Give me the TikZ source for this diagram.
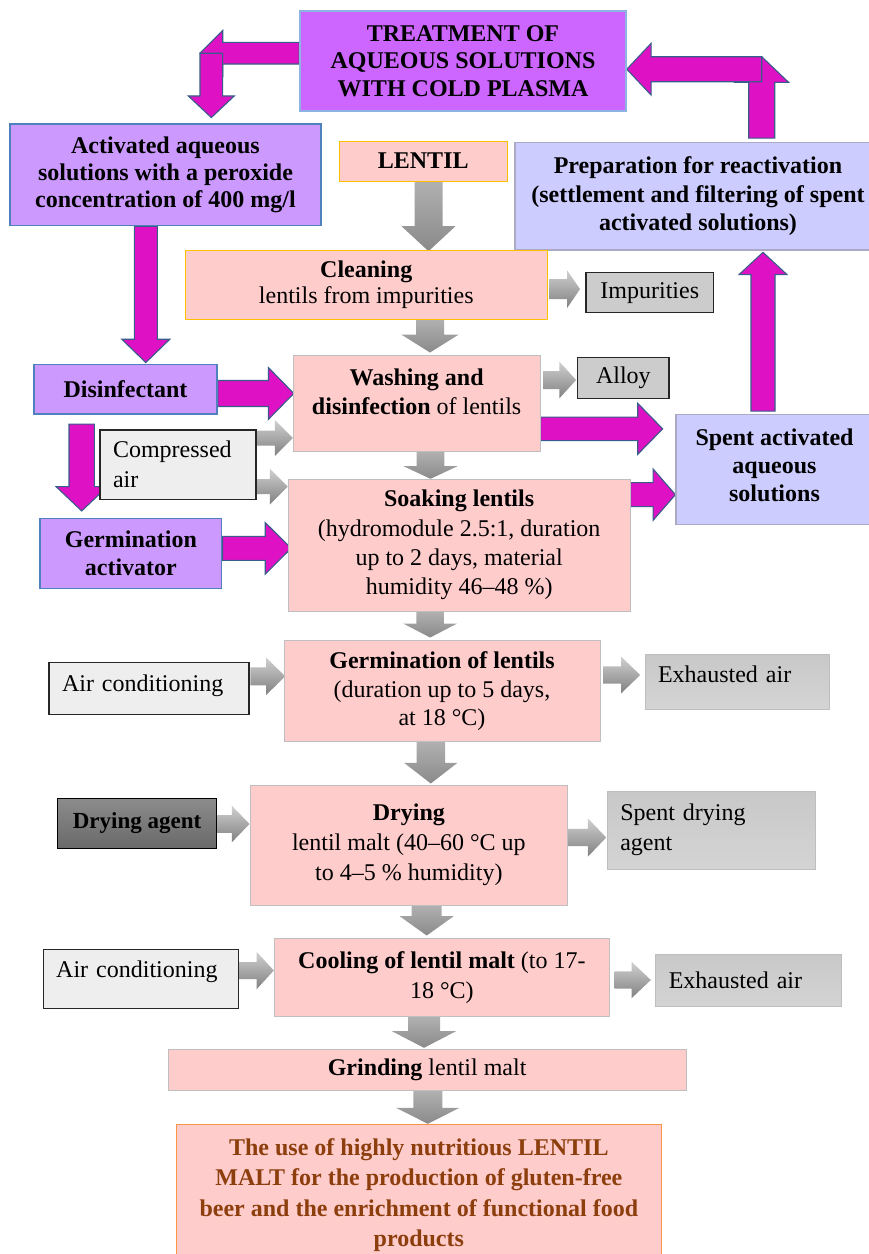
\documentclass[tikz,border=0pt]{standalone}
\usepackage{fontspec}
\setmainfont{Liberation Serif}
\usetikzlibrary{calc,backgrounds}

\definecolor{cPink}{RGB}{255,204,204}
\definecolor{cPinkB}{RGB}{191,191,191}
\definecolor{cGold}{RGB}{255,192,0}
\definecolor{cViolet}{RGB}{204,102,255}
\definecolor{cVioletB}{RGB}{141,179,226}
\definecolor{cLilac}{RGB}{204,153,255}
\definecolor{cLilacB}{RGB}{79,129,189}
\definecolor{cLav}{RGB}{204,204,255}
\definecolor{cLavB}{RGB}{170,170,196}
\definecolor{cMag}{RGB}{222,17,196}
\definecolor{cMagB}{RGB}{56,93,138}
\definecolor{cLtGray}{RGB}{238,238,238}
\definecolor{cMdGray}{RGB}{204,204,204}
\definecolor{cDark}{RGB}{38,38,38}
\definecolor{cOrange}{RGB}{247,150,70}
\definecolor{cBrown}{RGB}{140,62,12}
\definecolor{cGrTop}{RGB}{200,200,200}
\definecolor{cGrBot}{RGB}{212,212,212}
\definecolor{cGrB}{RGB}{190,190,190}
\definecolor{cDkTop}{RGB}{140,140,140}
\definecolor{cDkBot}{RGB}{105,105,105}
\definecolor{cGvTop}{RGB}{176,176,176}
\definecolor{cGvBot}{RGB}{138,138,138}
\definecolor{cGhTop}{RGB}{208,208,208}
\definecolor{cGhBot}{RGB}{128,128,128}

\newcommand\myfs[1]{\fontsize{24}{#1}\selectfont}

% horizontal block arrow: style, from, to, shaft half, head half, head length
\newcommand\harrow[6]{%
  \path[#1] let \p1=#2, \p2=#3, \n1={ifthenelse(\x2>\x1,1,-1)} in
    (\x1,\y1+#4) -- ({\x2-\n1*#6},\y1+#4) -- ({\x2-\n1*#6},\y1+#5) -- (\x2,\y1)
    -- ({\x2-\n1*#6},\y1-#5) -- ({\x2-\n1*#6},\y1-#4) -- (\x1,\y1-#4) -- cycle;}
% vertical block arrow
\newcommand\varrow[6]{%
  \path[#1] let \p1=#2, \p2=#3, \n1={ifthenelse(\y2>\y1,1,-1)} in
    (\x1+#4,\y1) -- (\x1+#4,{\y2-\n1*#6}) -- (\x1+#5,{\y2-\n1*#6}) -- (\x1,\y2)
    -- (\x1-#5,{\y2-\n1*#6}) -- (\x1-#4,{\y2-\n1*#6}) -- (\x1-#4,\y1) -- cycle;}

\begin{document}
\begin{tikzpicture}[x=1pt,y=-1pt,
  base/.style={rectangle, inner sep=0pt, align=center, font=\myfs{28}},
  pinkbox/.style={base, fill=cPink, draw=cPinkB, line width=1pt},
  goldbox/.style={base, fill=cPink, draw=cGold, line width=1pt},
  violetbox/.style={base, fill=cViolet, draw=cVioletB, line width=1.5pt},
  lilacbox/.style={base, fill=cLilac, draw=cLilacB, line width=1.5pt},
  lavbox/.style={base, fill=cLav, draw=cLavB, line width=1.2pt},
  graybox/.style={base, fill=cMdGray, draw=cDark, line width=1.2pt},
  ltbox/.style={base, fill=cLtGray, draw=cDark, line width=1.2pt, align=left, inner xsep=13pt},
  gradbox/.style={base, top color=cGrTop, bottom color=cGrBot, draw=cGrB, line width=1pt, align=left, inner xsep=13pt},
  darkbox/.style={base, top color=cDkTop, bottom color=cDkBot, draw=black, line width=1.2pt},
  mag/.style={fill=cMag, draw=cMagB, line width=1.1pt, line join=miter},
  gv/.style={top color=cGvTop, bottom color=cGvBot, draw=none},
  gh/.style={top color=cGhTop, bottom color=cGhBot, draw=none}
]
\useasboundingbox (0,0) rectangle (869,1254);

% ---------- nodes ----------
\node[violetbox, font=\myfs{27.6}\bfseries, minimum width=326pt, minimum height=100pt] (treat) at (463,61)
  {TREATMENT OF\\AQUEOUS SOLUTIONS\\WITH COLD PLASMA};
\node[lilacbox, font=\myfs{27.3}\bfseries, minimum width=311pt, minimum height=101.5pt] (act) at (165.5,174.75)
  {Activated aqueous\\solutions with a peroxide\\concentration of 400 mg/l};
\node[goldbox, font=\myfs{28}\bfseries, minimum width=168.5pt, minimum height=40pt] (lentil) at (423.25,161) {LENTIL};
\node[lavbox, font=\myfs{28.3}\bfseries, minimum width=366pt, minimum height=107.3pt] (prep) at (698,196.35)
  {Preparation for reactivation\\(settlement and filtering of spent\\activated solutions)};
\node[goldbox, font=\myfs{26}, minimum width=362.5pt, minimum height=68.3pt] (clean) at (366.25,284.85)
  {\textbf{Cleaning}\\lentils from impurities};
\node[graybox, minimum width=127.6pt, minimum height=40pt] (imp) at (649.8,292.7) {Impurities};
\node[lilacbox, font=\myfs{28}\bfseries, minimum width=183pt, minimum height=49.7pt] (disinf) at (125.5,389.15) {Disinfectant};
\node[pinkbox, font=\myfs{29}, minimum width=246.7pt, minimum height=96.7pt] (wash) at (416.65,403.35)
  {\textbf{Washing and}\\\textbf{disinfection} of lentils\\[-5pt]\mbox{}};
\node[graybox, minimum width=91.3pt, minimum height=41pt] (alloy) at (623.35,377.8) {Alloy};
\node[ltbox, font=\myfs{30}, text width=130pt, minimum width=156pt, minimum height=69.3pt] (comp) at (178,464.65)
  {Compressed\\air};
\node[lilacbox, font=\myfs{27.6}\bfseries, minimum width=181.7pt, minimum height=70pt] (gact) at (130.85,553.3)
  {Germination\\activator};
\node[pinkbox, font=\myfs{29.4}, minimum width=341.7pt, minimum height=131.7pt] (soak) at (459.15,545.15)
  {\textbf{Soaking lentils}\\(hydromodule 2.5:1, duration\\up to 2 days, material\\humidity 46--48 \%)};
\node[lavbox, font=\myfs{28}\bfseries, minimum width=197pt, minimum height=110pt] (spent) at (774.5,469.3)
  {Spent activated\\aqueous\\solutions\\[-19pt]\mbox{}};
\node[ltbox, font=\myfs{28}, text width=174pt, minimum width=200pt, minimum height=52pt] (air1) at (149,688.3)
  {Air conditioning\\[-16.8pt]\mbox{}};
\node[pinkbox, font=\myfs{28.7}, minimum width=316pt, minimum height=101pt] (germ) at (442,691.2)
  {\textbf{Germination of lentils}\\(duration up to 5 days,\\at 18 °C)};
\node[gradbox, font=\myfs{28}, text width=158.3pt, minimum width=184.3pt, minimum height=55.3pt] (exh1) at (737.15,681.65)
  {Exhausted air\\[-14pt]\mbox{}};
\node[darkbox, font=\fontsize{23}{27}\selectfont\bfseries, minimum width=159.4pt, minimum height=50pt] (dagent) at (137,823.3)
  {Drying agent};
\node[pinkbox, font=\myfs{30}, minimum width=317.7pt, minimum height=120pt] (dry) at (408.85,845)
  {\textbf{Drying}\\lentil malt (40--60 °C up\\to 4--5 \% humidity)};
\node[gradbox, font=\myfs{30}, text width=182.4pt, minimum width=208.4pt, minimum height=78.3pt] (sdry) at (711.5,830.15)
  {Spent drying\\agent};
\node[ltbox, font=\myfs{28}, text width=169.2pt, minimum width=195.2pt, minimum height=59pt] (air2) at (140.8,978.8)
  {Air conditioning\\[-8.8pt]\mbox{}};
\node[pinkbox, font=\myfs{30}, minimum width=335.2pt, minimum height=78.4pt] (cool) at (441.9,977.5)
  {\textbf{Cooling of lentil malt} (to 17-\\18 °C)};
\node[gradbox, font=\myfs{28}, text width=159.7pt, minimum width=185.7pt, minimum height=52.7pt] (exh2) at (748.65,980.35)
  {Exhausted air};
\node[pinkbox, minimum width=518.2pt, minimum height=41.4pt] (grind) at (427.1,1070)
  {\textbf{Grinding} lentil malt};
\node[pinkbox, draw=cOrange, text=cBrown, font=\myfs{30.5}\bfseries, minimum width=484.3pt, minimum height=141.7pt] (final) at (418.85,1195.15)
  {The use of highly nutritious LENTIL\\MALT for the production of gluten-free\\beer and the enrichment of functional food\\products};

\coordinate (elbowL) at (200,53.2);
\coordinate (elbowR) at (761.7,56.7);

% ---------- connectors ----------
\begin{scope}[on background layer]
\fill[white] (0,0) rectangle (869,1254);
% magenta
\harrow{mag}{(treat.west |- elbowL)}{(elbowL)}{10.8pt}{22.7pt}{22.7pt}
\varrow{mag}{($(elbowL)+(11.3,0)$)}{($(act.north)+(0,-5.7)$)}{11.3pt}{23pt}{21.6pt}
\varrow{mag}{($(prep.north -| elbowR)+(0,-4)$)}{(elbowR)}{13pt}{27pt}{25.7pt}
\harrow{mag}{($(elbowR)+(0,12.5)$)}{(treat.east)}{12.5pt}{25.8pt}{24.3pt}
\varrow{mag}{($(act.south)+(-19.7,0)$)}{($(disinf.north)+(0,-1)$)}{11.5pt}{24pt}{23.3pt}
\harrow{mag}{($(disinf.east)+(0,4.3)$)}{($(wash.west)+(1,0)$)}{13pt}{25.8pt}{25.3pt}
\varrow{mag}{($(disinf.south)+(-43.8,9.3)$)}{($(gact.north)+(0,-6.6)$)}{12.7pt}{25.7pt}{24.4pt}
\harrow{mag}{($(gact.east)+(0,-5)$)}{($(soak.west)+(3.4,0)$)}{12pt}{25.8pt}{26pt}
\harrow{mag}{($(wash.east)+(0,25.5)$)}{($(spent.west)+(-12.7,0)$)}{11.7pt}{25.5pt}{25pt}
\harrow{mag}{($(soak.east)+(0,-50.5)$)}{(spent.west)}{12pt}{25.7pt}{22.3pt}
\varrow{mag}{($(spent.north)+(-11.5,-2.6)$)}{($(prep.south)+(0,1.7)$)}{12pt}{24pt}{22.3pt}
% gray vertical
\varrow{gv}{($(lentil.south)+(5.25,0)$)}{($(clean.north)+(0,1)$)}{14pt}{27pt}{25pt}
\varrow{gv}{($(clean.south)+(63.75,0)$)}{($(wash.north)+(0,-2)$)}{14pt}{28.8pt}{18pt}
\varrow{gv}{($(wash.south)+(13.85,0)$)}{(soak.north)}{13.8pt}{27pt}{12.6pt}
\varrow{gv}{($(soak.south)+(-29,0)$)}{($(germ.north)+(0,-2.7)$)}{13.8pt}{27pt}{14pt}
\varrow{gv}{($(germ.south)+(-11.2,0)$)}{($(dry.north)+(0,-1)$)}{14.2pt}{26.7pt}{20.7pt}
\varrow{gv}{($(dry.south)+(17.85,0)$)}{($(cool.north)+(0,-2.3)$)}{15pt}{27pt}{19.3pt}
\varrow{gv}{($(cool.south)+(-17.9,0)$)}{($(grind.north)+(0,-1)$)}{16pt}{32pt}{16.6pt}
\varrow{gv}{($(grind.south)+(0.7,0)$)}{(final.north)}{14.5pt}{31.7pt}{16pt}
% gray horizontal
\harrow{gh}{($(clean.east)+(1,4.3)$)}{($(imp.west)+(-5.4,0)$)}{10pt}{19pt}{13pt}
\harrow{gh}{($(wash.east)+(2.7,-23.35)$)}{($(alloy.west)+(-1,0)$)}{9pt}{18.3pt}{16.7pt}
\harrow{gh}{($(comp.east)+(0,-26.65)$)}{(wash.west)}{7.5pt}{18pt}{18pt}
\harrow{gh}{($(comp.east)+(0,22)$)}{(soak.west)}{7.5pt}{18pt}{18pt}
\harrow{gh}{($(air1.east)+(0.7,-12)$)}{($(germ.west)+(1.7,0)$)}{9pt}{18.6pt}{19pt}
\harrow{gh}{($(germ.east)+(2.7,-16.2)$)}{($(exh1.west)+(-4.3,0)$)}{8.7pt}{18.3pt}{19pt}
\harrow{gh}{($(dagent.east)+(0,0.7)$)}{(dry.west)}{8.8pt}{18.3pt}{17.7pt}
\harrow{gh}{($(dry.east)+(0,-7.5)$)}{($(sdry.west)+(-0.6,0)$)}{8.7pt}{19.2pt}{18.4pt}
\harrow{gh}{($(air2.east)+(0,-8.3)$)}{(cool.west)}{8.5pt}{18.8pt}{17.3pt}
\harrow{gh}{($(cool.east)+(4.7,2.5)$)}{($(exh2.west)+(-4.5,0)$)}{8.7pt}{18.3pt}{19.3pt}
\end{scope}
\end{tikzpicture}
\end{document}
